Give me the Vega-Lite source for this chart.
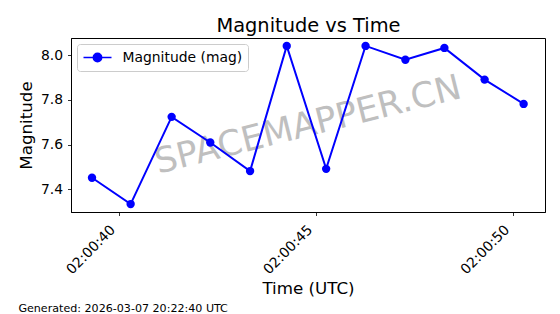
{
  "$schema": "https://vega.github.io/schema/vega-lite/v6.json",
  "width": 474,
  "height": 174,
  "autosize": {"type": "none"},
  "padding": {"left": 71, "top": 38, "right": 15, "bottom": 102},
  "background": "white",
  "title": {
    "text": "Generated: 2026-03-07 20:22:40 UTC",
    "orient": "bottom",
    "anchor": "start",
    "frame": "bounds",
    "font": "DejaVu Sans",
    "fontSize": 11.1,
    "fontWeight": "normal",
    "color": "black",
    "offset": 6
  },
  "config": {
    "font": "DejaVu Sans",
    "view": {"stroke": "black", "strokeWidth": 1},
    "axis": {
      "labelFont": "DejaVu Sans",
      "titleFont": "DejaVu Sans",
      "labelColor": "black",
      "titleColor": "black",
      "tickColor": "black",
      "domainColor": "black",
      "tickWidth": 0.8,
      "domainWidth": 1,
      "gridColor": "#b0b0b0",
      "gridOpacity": 0.6,
      "gridDash": [3, 2],
      "gridWidth": 0.8,
      "titleFontWeight": "normal"
    }
  },
  "layer": [
    {
      "data": {"values": [
        {"time": "2026-03-07T02:00:44.800Z", "magnitude": 7.6875, "label": "SPACEMAPPER.CN"}
      ]},
      "mark": {"type": "text", "angle": -14, "align": "center", "baseline": "middle", "fontSize": 35, "font": "DejaVu Sans", "color": "gray", "opacity": 0.5, "clip": true},
      "encoding": {
        "x": {
          "field": "time", "type": "temporal",
          "scale": {"type": "utc"},
          "axis": {
            "orient": "top", "labels": false, "ticks": false, "domain": false, "grid": false,
            "title": "Magnitude vs Time", "titleFontSize": 19.4, "titlePadding": 7,
            "titleBaseline": "alphabetic"
          }
        },
        "y": {"field": "magnitude", "type": "quantitative", "axis": null},
        "text": {"field": "label"}
      }
    },
    {
      "data": {"values": [
        {"time": "2026-03-07T02:00:39.320Z", "magnitude": 7.451, "series": "Magnitude (mag)"},
        {"time": "2026-03-07T02:00:40.300Z", "magnitude": 7.333, "series": "Magnitude (mag)"},
        {"time": "2026-03-07T02:00:41.340Z", "magnitude": 7.724, "series": "Magnitude (mag)"},
        {"time": "2026-03-07T02:00:42.320Z", "magnitude": 7.609, "series": "Magnitude (mag)"},
        {"time": "2026-03-07T02:00:43.330Z", "magnitude": 7.481, "series": "Magnitude (mag)"},
        {"time": "2026-03-07T02:00:44.260Z", "magnitude": 8.042, "series": "Magnitude (mag)"},
        {"time": "2026-03-07T02:00:45.260Z", "magnitude": 7.491, "series": "Magnitude (mag)"},
        {"time": "2026-03-07T02:00:46.260Z", "magnitude": 8.042, "series": "Magnitude (mag)"},
        {"time": "2026-03-07T02:00:47.270Z", "magnitude": 7.980, "series": "Magnitude (mag)"},
        {"time": "2026-03-07T02:00:48.260Z", "magnitude": 8.033, "series": "Magnitude (mag)"},
        {"time": "2026-03-07T02:00:49.280Z", "magnitude": 7.891, "series": "Magnitude (mag)"},
        {"time": "2026-03-07T02:00:50.270Z", "magnitude": 7.782, "series": "Magnitude (mag)"}
      ]},
      "mark": {"type": "line", "strokeWidth": 2, "point": {"filled": true, "size": 70}},
      "encoding": {
        "x": {
          "field": "time", "type": "temporal",
          "scale": {"type": "utc", "domain": [
            {"year": 2026, "month": 3, "date": 7, "hours": 2, "minutes": 0, "seconds": 38, "milliseconds": 787, "utc": true},
            {"year": 2026, "month": 3, "date": 7, "hours": 2, "minutes": 0, "seconds": 50, "milliseconds": 812, "utc": true}
          ]},
          "axis": {
            "orient": "bottom",
            "values": [
              {"year": 2026, "month": 3, "date": 7, "hours": 2, "minutes": 0, "seconds": 40, "utc": true},
              {"year": 2026, "month": 3, "date": 7, "hours": 2, "minutes": 0, "seconds": 45, "utc": true},
              {"year": 2026, "month": 3, "date": 7, "hours": 2, "minutes": 0, "seconds": 50, "utc": true}
            ],
            "labelExpr": "utcFormat(datum.value, '%H:%M:%S')",
            "labelAngle": -45,
            "labelAlign": "right",
            "labelBaseline": "top",
            "labelOffset": -11,
            "labelPadding": 7,
            "labelFontSize": 13.9,
            "tickSize": 3.5,
            "title": "Time (UTC)",
            "titleFontSize": 16.7,
            "titleBaseline": "alphabetic",
            "titleY": 81
          }
        },
        "y": {
          "field": "magnitude", "type": "quantitative",
          "scale": {"domain": [7.2975, 8.0775], "nice": false, "zero": false},
          "axis": {
            "values": [7.4, 7.6, 7.8, 8.0],
            "format": ".1f",
            "labelFontSize": 13.9,
            "tickSize": 3.5,
            "labelPadding": 5,
            "title": "Magnitude",
            "titleFontSize": 16.7,
            "titlePadding": 5
          }
        },
        "color": {
          "field": "series", "type": "nominal",
          "scale": {"range": ["#0000ff"]},
          "legend": {
            "title": null,
            "orient": "top-left",
            "offset": 6,
            "padding": 5.5,
            "strokeColor": "#cccccc",
            "fillColor": "rgba(255,255,255,0.8)",
            "cornerRadius": 3,
            "labelFont": "DejaVu Sans",
            "labelFontSize": 13.9,
            "labelColor": "black",
            "symbolType": "M-2,0H2M-0.6,0A0.6,0.6,0,1,0,0.6,0A0.6,0.6,0,1,0,-0.6,0Z",
            "symbolSize": 196,
            "symbolStrokeWidth": 1.5,
            "symbolFillColor": "#0000ff",
            "symbolStrokeColor": "#0000ff",
            "symbolOffset": 7,
            "labelOffset": 17
          }
        }
      }
    }
  ],
  "resolve": {"axis": {"x": "independent", "y": "independent"}}
}
